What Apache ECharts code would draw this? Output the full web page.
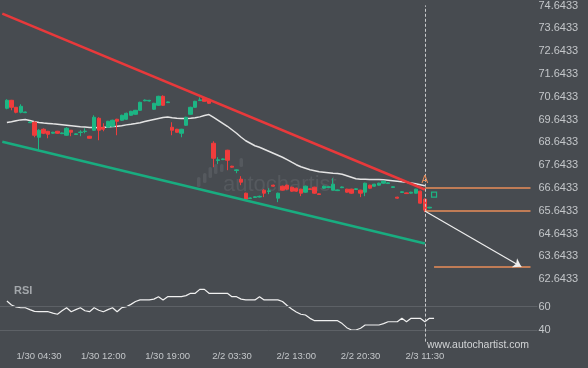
<!DOCTYPE html>
<html><head><meta charset="utf-8">
<script src="https://cdn.jsdelivr.net/npm/echarts@6/dist/echarts.min.js"></script>
<style>html,body{margin:0;padding:0;background:#474b50;}#c{width:588px;height:368px;}</style>
</head><body><div id="c"></div>
<script>
const categoryCount = 117;
const tickIndex = [8, 22, 36, 50, 64, 78, 92];
const tickLabels = ['1/30 04:30', '1/30 12:00', '1/30 19:00', '2/2 03:30', '2/2 13:00', '2/2 20:30', '2/3 11:30'];
const priceMin = 61.6433;
const priceMax = 74.6433;
const priceStep = 1;

const candleOpen = [null,
 70.132,70.482,70.175,69.956,69.94,69.50,69.518,68.861,69.212,69.124,
 69.04,69.124,69.02,68.949,69.168,68.98,69.07,69.11,68.905,69.168,
 69.693,69.299,69.299,69.343,69.650,69.606,69.650,69.825,69.869,70.044,
 70.46,70.45,70.088,70.263,70.657,70.38,69.299,69.212,69.036,69.387,
 69.869,70.175,70.47,70.570,70.526,68.598,67.84,67.88,68.292,67.591,
 67.40,67.022,66.408,66.17,66.22,66.24,66.540,66.48,66.759,66.189,
 66.715,66.759,66.671,66.627,66.584,66.452,66.60,66.671,66.38,66.627,
 66.66,66.540,66.52,66.65,66.584,66.584,66.57,66.540,66.452,66.759,
 66.715,66.759,66.846,66.83,66.66,66.233,66.44,66.42,66.41,66.408,
 66.496,66.146,65.76];
const candleClose = [null,
 70.482,70.175,69.956,70.219,69.97,69.53,68.949,69.168,69.036,68.993,
 69.08,69.036,69.05,69.255,69.080,69.01,69.09,69.13,68.817,69.737,
 69.168,69.212,69.562,69.606,69.562,69.825,69.912,70.000,70.044,70.394,
 70.49,70.48,70.351,70.657,70.263,70.41,69.168,69.080,69.212,69.737,
 70.175,70.438,70.50,70.438,70.351,67.941,67.87,67.91,67.854,67.547,
 67.43,66.890,66.146,66.20,66.25,66.27,66.408,66.51,66.715,66.408,
 66.540,66.584,66.496,66.496,66.408,66.715,66.57,66.408,66.35,66.715,
 66.69,66.803,66.55,66.68,66.452,66.408,66.60,66.408,66.846,66.627,
 66.803,66.846,66.934,66.86,66.69,66.189,66.47,66.39,66.45,66.584,
 65.970,65.664,65.79];
const candleLow = [null,
 70.088,70.044,69.912,69.912,69.92,69.49,68.861,68.292,69.00,68.817,
 69.02,69.01,69.00,68.93,68.905,68.96,68.905,69.036,68.80,69.14,
 68.730,69.124,69.28,69.32,68.949,69.58,69.63,69.80,69.85,70.02,
 70.44,70.43,70.06,70.24,70.24,70.36,68.949,69.06,68.861,69.36,
 69.85,70.15,70.45,70.42,70.33,67.547,67.679,67.86,67.416,67.52,
 67.285,66.759,66.12,66.15,66.20,66.22,66.233,66.365,66.69,66.014,
 66.52,66.56,66.47,66.47,66.277,66.43,66.55,66.38,66.33,66.60,
 66.64,66.52,66.50,66.63,66.43,66.38,66.55,66.233,66.277,66.60,
 66.69,66.74,66.82,66.81,66.64,66.17,66.42,66.37,66.39,66.39,
 65.95,65.577,65.74];
const candleHigh = [null,
 70.526,70.50,70.19,70.307,69.99,69.55,69.562,69.212,69.25,69.14,
 69.10,69.14,69.07,69.299,69.18,69.03,69.168,69.255,68.92,69.825,
 69.74,69.474,69.58,69.63,69.67,69.85,69.94,70.02,70.06,70.42,
 70.52,70.50,70.37,70.68,70.701,70.43,69.518,69.23,69.23,69.76,
 70.20,70.46,70.613,70.59,70.55,68.686,67.985,67.93,68.31,67.61,
 67.45,67.153,66.43,66.22,66.27,66.30,66.584,66.627,66.78,66.43,
 66.74,66.78,66.69,66.65,66.60,66.74,66.62,66.69,66.40,66.74,
 66.71,67.066,66.57,66.70,66.60,66.60,66.62,66.56,66.87,66.78,
 66.82,66.87,66.95,66.88,66.71,66.25,66.49,66.44,66.47,66.60,
 66.52,66.17,65.81];

const maValues = [null,
 69.505,69.540,69.584,69.623,69.636,69.597,69.540,69.505,69.483,69.466,
 69.448,69.431,69.409,69.387,69.365,69.343,69.321,69.308,69.290,69.286,
 69.282,69.290,69.308,69.330,69.343,69.369,69.404,69.431,69.461,69.501,
 69.549,69.597,69.641,69.685,69.728,69.746,69.715,69.693,69.680,69.685,
 69.693,69.720,69.755,69.816,69.855,69.737,69.606,69.474,69.343,69.190,
 69.036,68.861,68.708,68.598,68.489,68.423,68.336,68.248,68.160,68.073,
 67.985,67.876,67.766,67.657,67.569,67.503,67.437,67.394,67.350,67.328,
 67.306,67.284,67.271,67.241,67.175,67.109,67.043,67.022,67.022,67.013,
 67.009,67.009,67.000,66.978,66.956,66.934,66.912,66.891,66.856,66.821,
 66.781,66.737];

const rsiValues = [null,
 64.9,61.5,59.8,59.1,59.1,57.5,56.0,55.7,55.7,55.7,
 54.5,53.5,56.5,59.1,55.7,57.5,59.1,56.5,55.7,59.1,
 57.0,55.7,57.5,59.1,55.7,59.1,60.0,62.0,64.5,65.8,
 65.8,65.8,66.5,68.6,65.8,68.6,68.6,68.6,68.6,69.5,
 71.5,71.5,74.9,74.9,71.5,71.5,71.5,71.5,71.5,68.6,
 68.6,66.5,65.8,65.8,65.8,68.6,65.8,65.8,65.8,65.8,
 64.5,61.0,58.0,55.5,53.5,52.9,50.0,48.0,48.0,48.0,
 48.0,48.0,48.0,45.5,42.0,40.0,40.0,41.5,44.3,44.3,
 44.3,44.3,45.5,47.1,47.1,47.1,50.0,47.1,50.0,50.0,
 50.0,47.1,50.0,50.0];

const resistanceIdx = [0, 92];
const resistanceVal = [74.28, 66.57];
const supportIdx = [0, 92];
const supportVal = [68.66, 64.20];

const currentIdx = 92;
const levelValues = [66.65, 65.63, 63.17];
const levelStartIdx = [92, 92, 94];
const levelEndIdx = 115;
const arrowFrom = [92, 65.63];
const arrowTo = [113, 63.18];
const patternMark = [92, 66.96];
const squareMark = [94, 66.34];
const rsiGuides = [60, 40];

const UP = '#1db584', DOWN = '#f03c3c', ORANGE = '#e88c58', TXT = '#c3c6c9';
const FONT = 'Liberation Sans';

const cats = Array.from({length: categoryCount}, (_, i) => String(i));
const candleData = candleOpen.map((o, i) => o == null ? '-' : [o, candleClose[i], candleLow[i], candleHigh[i]]);
const pairs = (idx, val) => idx.map((x, k) => [String(x), val[k]]);

const chart = echarts.init(document.getElementById('c'), null, {renderer: 'canvas'});
chart.setOption({
  animation: false,
  backgroundColor: '#474b50',
  title: {text: 'RSI', left: 14, top: 285, padding: 0,
    textStyle: {color: '#a3a7ab', fontSize: 11, fontWeight: 'bold', fontFamily: FONT}},
  graphic: [
    {type: 'rect', z: 0, shape: {x: 197, y: 177, width: 3.5, height: 10, r: 1.5}, style: {fill: '#55595e'}},
    {type: 'rect', z: 0, shape: {x: 203, y: 173, width: 3.5, height: 10, r: 1.5}, style: {fill: '#55595e'}},
    {type: 'rect', z: 0, shape: {x: 208.5, y: 167, width: 3.5, height: 11, r: 1.5}, style: {fill: '#55595e'}},
    {type: 'rect', z: 0, shape: {x: 214, y: 164, width: 3.5, height: 10, r: 1.5}, style: {fill: '#55595e'}},
    {type: 'rect', z: 0, shape: {x: 220, y: 164, width: 3.5, height: 8, r: 1.5}, style: {fill: '#55595e'}},
    {type: 'rect', z: 0, shape: {x: 239.5, y: 158, width: 3.5, height: 9, r: 1.5}, style: {fill: '#55595e'}},
    {type: 'text', z: 0, left: 223, top: 174, style: {text: 'autochartist', fill: '#55595e', font: '22px "Liberation Sans"'}},
    {type: 'text', z: 5, left: 427, top: 340, style: {text: 'www.autochartist.com', fill: '#d2d4d6', font: '10.5px "Liberation Sans"'}}
  ],
  grid: [
    {left: 0, right: 50.6, top: 5, height: 296.8},
    {left: 0, right: 50.6, top: 283.4, height: 58.25}
  ],
  xAxis: [
    {type: 'category', gridIndex: 0, data: cats, boundaryGap: true, show: false},
    {type: 'category', gridIndex: 1, data: cats, boundaryGap: true,
      axisLine: {show: false}, axisTick: {show: false}, splitLine: {show: false},
      axisLabel: {interval: (i) => tickIndex.includes(i),
        formatter: (v, i) => { const k = tickIndex.indexOf(i); return k >= 0 ? tickLabels[k] : ''; },
        color: TXT, fontSize: 9.5, fontFamily: FONT, margin: 10}}
  ],
  yAxis: [
    {type: 'value', gridIndex: 0, position: 'right', min: priceMin, max: priceMax, interval: priceStep,
      axisLine: {show: false}, axisTick: {show: false}, splitLine: {show: false},
      axisLabel: {color: TXT, fontSize: 11, fontFamily: FONT, margin: 1,
        formatter: (v) => {
          const k = Math.round((v - priceMin) / priceStep);
          return k < 1 ? '' : (priceMin + k * priceStep).toFixed(4);
        }}},
    {type: 'value', gridIndex: 1, position: 'right', min: 30, max: 80, interval: 10,
      axisLine: {show: false}, axisTick: {show: false}, splitLine: {show: false},
      axisLabel: {color: TXT, fontSize: 11, fontFamily: FONT, margin: 1,
        formatter: (v) => rsiGuides.includes(v) ? String(v) : ''}}
  ],
  series: [
    {type: 'candlestick', xAxisIndex: 0, yAxisIndex: 0, data: candleData, barWidth: 3.8, z: 3,
      itemStyle: {color: UP, color0: DOWN, borderColor: UP, borderColor0: DOWN, borderWidth: 1},
      markLine: {silent: true, symbol: 'none', label: {show: false}, z: 4,
        data: [
          {xAxis: String(currentIdx), lineStyle: {color: '#c8cacc', type: [3, 2], width: 1}},
          ...levelValues.map((v, k) => [
            {coord: [String(levelStartIdx[k]), v], lineStyle: {color: ORANGE, width: 1.5, type: 'solid'}},
            {coord: [String(levelEndIdx), v]}
          ]),
          [
            {coord: [String(arrowFrom[0]), arrowFrom[1]], symbol: 'none', lineStyle: {color: '#eeeeee', width: 1.2, type: 'solid'}},
            {coord: [String(arrowTo[0]), arrowTo[1]], symbol: 'arrow', symbolSize: 8}
          ]
        ]},
      markPoint: {silent: true, data: [
        {coord: [String(patternMark[0]), patternMark[1]], symbol: 'circle', symbolSize: 1,
          itemStyle: {color: 'rgba(0,0,0,0)'},
          label: {show: true, position: 'inside', formatter: 'A', color: ORANGE, fontSize: 10, fontFamily: FONT}},
        {coord: [String(squareMark[0]), squareMark[1]], symbol: 'rect', symbolSize: 5,
          itemStyle: {color: 'rgba(0,0,0,0)', borderColor: UP, borderWidth: 1.2},
          label: {show: false}}
      ]}},
    {type: 'line', xAxisIndex: 0, yAxisIndex: 0, data: maValues, symbol: 'none', z: 2,
      lineStyle: {color: '#e4e4e4', width: 1.5}},
    {type: 'line', xAxisIndex: 0, yAxisIndex: 0, data: pairs(resistanceIdx, resistanceVal), symbol: 'none', z: 5,
      lineStyle: {color: '#e8393b', width: 2.5}},
    {type: 'line', xAxisIndex: 0, yAxisIndex: 0, data: pairs(supportIdx, supportVal), symbol: 'none', z: 5,
      lineStyle: {color: '#19ad80', width: 2.5}},
    {type: 'line', xAxisIndex: 1, yAxisIndex: 1, data: rsiValues, symbol: 'none', z: 3,
      lineStyle: {color: '#f0f0f0', width: 1.2},
      markLine: {silent: true, symbol: 'none', label: {show: false},
        data: [
          ...rsiGuides.map(v => ({yAxis: v, lineStyle: {color: '#5d6166', width: 1, type: 'solid'}})),
          {xAxis: String(currentIdx), lineStyle: {color: '#c8cacc', type: [3, 2], width: 1}}
        ]}}
  ]
});
</script>
</body></html>
